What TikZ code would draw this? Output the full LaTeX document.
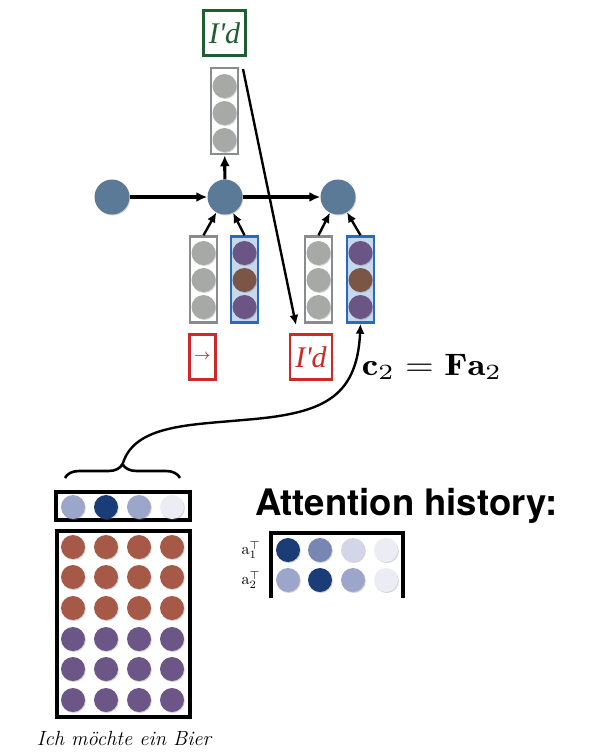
\documentclass[tikz,border=0pt]{standalone}
\usepackage{amsmath,amssymb}
\usepackage{fontspec}
\newfontfamily\headfont{TeX Gyre Heros}
\newfontfamily\wordfont{Liberation Serif}
\usetikzlibrary{arrows.meta, shadows, decorations.pathreplacing}
\definecolor{hidblue}{HTML}{5B7A98}
\definecolor{dotgray}{HTML}{A7A9A7}
\definecolor{framegray}{HTML}{8A8A8F}
\definecolor{vpurple}{HTML}{6A5585}
\definecolor{vbrown}{HTML}{7B5646}
\definecolor{blueframe}{HTML}{2E69B3}
\definecolor{bluefill}{HTML}{C4D8EE}
\definecolor{redframe}{HTML}{CC2A2A}
\definecolor{greenframe}{HTML}{1E5E32}
\definecolor{srcred}{HTML}{A65947}
\definecolor{srcpurple}{HTML}{6C5688}
\definecolor{attdark}{HTML}{1B3D77}
\definecolor{attmid}{HTML}{7886B4}
\definecolor{attlight}{HTML}{9CA5CA}
\definecolor{attpale}{HTML}{D3D6E8}
\definecolor{attwhite}{HTML}{ECEDF4}
\tikzstyle{hid} = [circle, fill=hidblue, minimum size=35pt, inner sep=0pt,
    drop shadow={shadow xshift=0.8pt, shadow yshift=-1pt, opacity=0.35}]
\tikzstyle{dot} = [circle, minimum size=24pt, inner sep=0pt,
    drop shadow={shadow xshift=0.8pt, shadow yshift=-1pt, opacity=0.35}]
\tikzstyle{vecbox} = [rectangle, draw=framegray, fill=white, line width=2.5pt,
    minimum width=27pt, minimum height=86pt, inner sep=0pt]
\tikzstyle{wordbox} = [rectangle, line width=2.5pt, minimum height=45pt, inner sep=0pt,
    font=\wordfont\fontsize{30}{30}\selectfont\itshape]

\begin{document}
\begin{tikzpicture}[x=1pt, y=-1pt,
thick arrow/.style = {line width=3.2pt, -{Latex[length=11pt, width=10pt]}},
thin arrow/.style = {line width=2.4pt, -{Latex[length=10pt, width=9pt]}},
black box/.style = {rectangle, draw, line width=4pt, inner sep=0pt},
                        ]
\useasboundingbox (0,0) rectangle (589,753);
% decoder states
\node [hid] (h0) at (112,197) {};
\node [hid] (h1) at (225,197) {};
\node [hid] (h2) at (338,197) {};
\draw [thick arrow] (h0) -- (h1);
\draw [thick arrow] (h1) -- (h2);
% output word
\node [vecbox] (yvec) at (224.5,111) {};
\foreach \y in {86,113,140}
	\node [dot, fill=dotgray] at (224.5,\y) {};
\draw [thick arrow] (h1) -- (yvec);
\node [wordbox, draw=greenframe, text=greenframe, minimum width=42pt] (yword) at (224.5,33) {I\textquotesingle d};
% inputs at t=1 and t=2
\node [vecbox] (g1) at (203.5,279.5) {};
\node [vecbox, draw=blueframe, fill=bluefill] (c1) at (244.5,279.5) {};
\node [vecbox] (g2) at (318.5,279.5) {};
\node [vecbox, draw=blueframe, fill=bluefill] (c2) at (360.5,279.5) {};
\foreach \x in {203.5,318.5}
	\foreach \y in {253,280,307}
		\node [dot, fill=dotgray] at (\x,\y) {};
\foreach \x in {244.5,360.5} {
	\node [dot, fill=vpurple] at (\x,253) {};
	\node [dot, fill=vbrown] at (\x,280) {};
	\node [dot, fill=vpurple] at (\x,307) {};
}
\draw [thin arrow] (g1.north) -- (h1);
\draw [thin arrow] (c1.north) -- (h1);
\draw [thin arrow] (g2.north) -- (h2);
\draw [thin arrow] (c2.north) -- (h2);
\node [wordbox, draw=redframe, text=redframe, minimum width=26pt,
	font=\fontsize{14}{14}\selectfont] (x1) at (202.5,357) {$\boldsymbol{\rightarrow}$};
\node [wordbox, draw=redframe, text=redframe, minimum width=42pt] (x2) at (311,357) {I\textquotesingle d};
% feed previous word
\coordinate (feed) at (243,69);
\coordinate (feedend) at (296,325);
\draw [thin arrow] (feed) -- (feedend);
\node [xscale=3.7, yscale=3.1] (ctx) at (432,367) {$\mathbf{c}_2 = \mathbf{F}\mathbf{a}_2$};
% source annotations
\node [black box, minimum width=134pt, minimum height=28pt] (att) at (123,506) {};
\foreach \x/\c in {73/attlight, 106/attdark, 139/attlight, 172/attwhite}
	\node [dot, fill=\c] at (\x,507) {};
\node [black box, minimum width=133pt, minimum height=186pt] (src) at (123.5,624) {};
\foreach \y/\c in {547/srcred, 577/srcred, 608/srcred, 639/srcpurple, 669/srcpurple, 700/srcpurple}
	\foreach \x in {73,106,139,172}
		\node [dot, fill=\c] at (\x,\y) {};
\node [font=\fontsize{20.5}{20.5}\selectfont\itshape] (words) at (124,738) {Ich m\"ochte ein Bier};
\draw [decorate, decoration={brace, amplitude=14pt}, line width=2.6pt]
	(65,478) -- (180,478) coordinate[midway] (bmid);
\coordinate (btip) at (123,463);
\draw [thin arrow] (btip) .. controls (135,425) and (190,425) .. (243,420)
	.. controls (320,414) and (357,400) .. (c2.south);
% attention history
\node [font=\headfont\bfseries\fontsize{36.5}{36.5}\selectfont, anchor=base] (histtitle) at (406.5,515) {Attention history:};
\draw [line width=4pt] (271,598) |- (403,533) -- (403,598);
\foreach \x/\c in {288/attdark, 320/attmid, 353/attpale, 386/attwhite}
	\node [dot, fill=\c] at (\x,550) {};
\foreach \x/\c in {288/attlight, 320/attdark, 353/attlight, 386/attwhite}
	\node [dot, fill=\c] at (\x,580) {};
\node [scale=1.6] (a1) at (251,550) {$\mathrm{a}_1^\top$};
\node [scale=1.6] (a2) at (251,580) {$\mathrm{a}_2^\top$};
\end{tikzpicture}
\end{document}
